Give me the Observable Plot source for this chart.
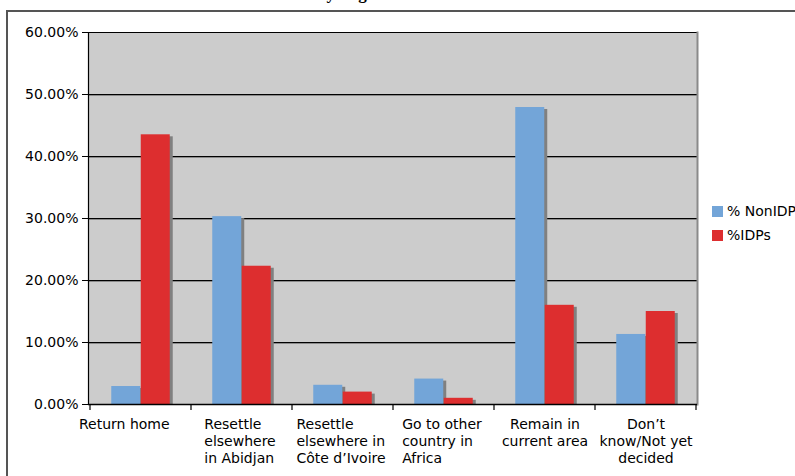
<!DOCTYPE html>
<html><head><meta charset="utf-8">
<script src="https://cdn.jsdelivr.net/npm/d3@7"></script>
<script src="https://cdn.jsdelivr.net/npm/@observablehq/plot@0.6"></script>
<style>
html,body{margin:0;padding:0;background:#fff;}
body{width:795px;height:476px;overflow:hidden;font-family:"DejaVu Sans",Verdana,sans-serif;}
#wrap{position:relative;width:795px;height:476px;overflow:hidden;}
#frame{position:absolute;left:6px;top:10px;width:900px;height:600px;border:2px solid #555;box-sizing:border-box;}
#title{position:absolute;left:6px;top:-16px;font:bold 17px "Liberation Serif","Times New Roman",serif;white-space:nowrap;color:#000;}
#chart{position:absolute;left:0;top:0;}
#legend{position:absolute;left:712px;top:199px;font-size:14px;color:#000;white-space:nowrap;}
#legend .row{display:flex;align-items:center;height:24px;}
#legend .sw{width:11px;height:11px;margin-right:4px;flex:none;}
</style></head><body>
<div id="wrap">
  <div id="title">Chart 3: Intentions about future residence by migration status</div>
  <div id="frame"></div>
  <div id="chart"></div>
  <div id="legend"></div>
</div>
<script>
// ---- data ----
const categories = [
  "Return home",
  "Resettle\nelsewhere\nin Abidjan",
  "Resettle\nelsewhere in\nCôte d\u2019Ivoire",
  "Go to other\ncountry in\nAfrica",
  "Remain in\ncurrent area",
  "Don\u2019t\nknow/Not yet\ndecided"
];
const seriesNames = ["% NonIDPs", "%IDPs"];
const nonIDPs = [0.029, 0.303, 0.031, 0.041, 0.479, 0.113];
const idps    = [0.435, 0.223, 0.020, 0.010, 0.160, 0.150];
const yTicks  = [0, 0.1, 0.2, 0.3, 0.4, 0.5, 0.6];

const colors = ["#73a5d8", "#dd2e2f"];
const table = categories.flatMap((c, i) => [
  {cat: c, series: seriesNames[0], value: nonIDPs[i]},
  {cat: c, series: seriesNames[1], value: idps[i]}
]);

const W = 795, H = 476, mL = 88, mR = 98, mT = 32, mB = 72;
const bw = (W - mL - mR) / categories.length;
const barW = 29.5;
const FONT = 14;

// measure text for left-aligned labels
const ctx = document.createElement("canvas").getContext("2d");
ctx.font = `${FONT}px "DejaVu Sans"`;
const blockWidth = s => Math.max(...s.split("\n").map(l => ctx.measureText(l).width));
const leftAlignedIdx = [1, 2, 3];

function categoryTicks(index, scales, values, dims) {
  const x = scales.x;
  const b = (x && typeof x.bandwidth === "function") ? x.bandwidth() : bw;
  const y0 = dims.height - dims.marginBottom;
  const xs = categories.map(c => x(c)).concat([x(categories[categories.length - 1]) + b]);
  const g = d3.create("svg:g").attr("stroke", "#000").attr("stroke-width", 1.2);
  g.selectAll("line").data(xs).join("line")
    .attr("x1", d => d).attr("x2", d => d)
    .attr("y1", y0).attr("y2", y0 + 6);
  return g.node();
}

const barsFor = (k, fill, shadow) => Plot.barY(table.filter(d => d.series === seriesNames[k]), {
  x: "cat", y: "value", fill,
  insetLeft: k === 0 ? bw / 2 - barW : bw / 2,
  insetRight: k === 0 ? bw / 2 : bw / 2 - barW,
  ...(shadow ? {dx: 3, insetTop: 2} : {})
});

const centeredIdx = [4, 5];

const plot = Plot.plot({
  width: W, height: H,
  marginLeft: mL, marginRight: mR, marginTop: mT, marginBottom: mB,
  style: {fontFamily: '"DejaVu Sans", Verdana, sans-serif', fontSize: FONT + "px", color: "#000", background: "transparent"},
  x: {domain: categories, padding: 0, axis: null},
  y: {domain: [0, 0.6], axis: null},
  marks: [
    Plot.frame({fill: "#cccccc", stroke: null}),
    Plot.ruleY(yTicks.slice(1, -1), {stroke: "#8a8a8a", strokeWidth: 1, dy: 1}),
    Plot.ruleY(yTicks.slice(1), {stroke: "#000", strokeWidth: 1.2}),
    Plot.frame({anchor: "right", stroke: "#8a8a8a", strokeWidth: 2}),
    barsFor(0, "#808080", true),
    barsFor(1, "#808080", true),
    barsFor(0, colors[0], false),
    barsFor(1, colors[1], false),
    Plot.ruleY([0], {stroke: "#000", strokeWidth: 1.5}),
    Plot.frame({anchor: "left", stroke: "#000", strokeWidth: 1.2}),
    Plot.axisY({ticks: yTicks, tickFormat: d3.format(".2%"), tickSize: 6, tickPadding: 4, label: null, stroke: "#000"}),
    categoryTicks,
    // "Return home" sits left of its band centre in the reference
    Plot.text([categories[0]], {
      x: d => d, text: d => d, frameAnchor: "bottom", lineAnchor: "top", textAnchor: "start",
      dx: -62, dy: 13, lineHeight: 1.2, fill: "#000"
    }),
    Plot.text(centeredIdx.map(i => categories[i]), {
      x: d => d, text: d => d, frameAnchor: "bottom", lineAnchor: "top",
      dy: 13, lineHeight: 1.2, fill: "#000"
    }),
    ...leftAlignedIdx.map(i => Plot.text([categories[i]], {
      x: d => d, text: d => d, frameAnchor: "bottom", lineAnchor: "top", textAnchor: "start",
      dx: -blockWidth(categories[i]) / 2 - 2, dy: 13, lineHeight: 1.2, fill: "#000"
    }))
  ]
});
document.getElementById("chart").appendChild(plot);

// legend
const lg = document.getElementById("legend");
seriesNames.forEach((s, i) => {
  const row = document.createElement("div");
  row.className = "row";
  const sw = document.createElement("span");
  sw.className = "sw"; sw.style.background = colors[i];
  const t = document.createElement("span");
  t.textContent = s;
  row.appendChild(sw); row.appendChild(t);
  lg.appendChild(row);
});
</script>
</body></html>
